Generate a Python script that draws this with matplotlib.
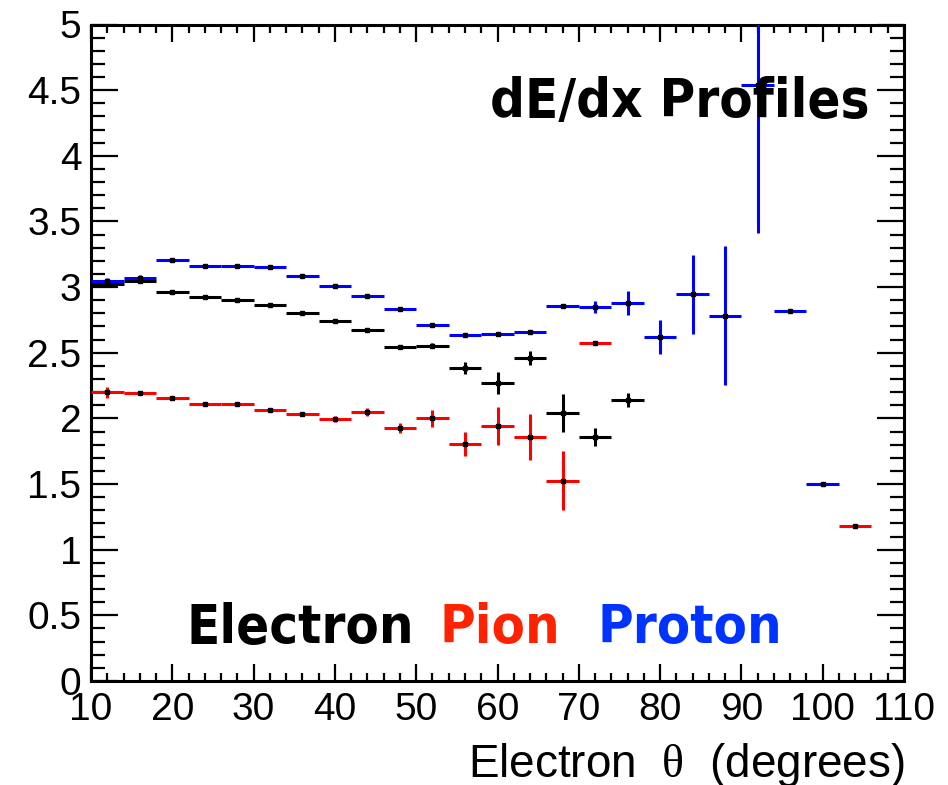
import matplotlib
matplotlib.use("Agg")
import matplotlib.pyplot as plt
from matplotlib.ticker import MultipleLocator, FormatStrFormatter

# bin centres (degrees) and profile values
electron_theta = [12, 16, 20, 24, 28, 32, 36, 40, 44, 48, 52, 56, 60, 64, 68, 72, 76]
electron_dedx = [3.02, 3.05, 2.965, 2.927, 2.899, 2.866, 2.805, 2.744, 2.671, 2.544,
                 2.554, 2.386, 2.267, 2.462, 2.041, 1.858, 2.137]
electron_err = [0.01, 0.02, 0.01, 0.01, 0.01, 0.01, 0.01, 0.01, 0.01, 0.015,
                0.02, 0.047, 0.084, 0.055, 0.146, 0.066, 0.053]

pion_theta = [12, 16, 20, 24, 28, 32, 36, 40, 44, 48, 52, 56, 60, 64, 68, 72, 104]
pion_dedx = [2.199, 2.193, 2.153, 2.112, 2.112, 2.067, 2.031, 1.995, 2.046, 1.926,
             2.0, 1.807, 1.94, 1.858, 1.526, 2.577, 1.18]
pion_err = [0.04, 0.01, 0.01, 0.01, 0.01, 0.01, 0.01, 0.02, 0.03, 0.038,
            0.062, 0.093, 0.146, 0.176, 0.227, 0.005, 0.003]

proton_theta = [12, 16, 20, 24, 28, 32, 36, 40, 44, 48, 52, 56, 60, 64, 68, 72,
                76, 80, 84, 88, 92, 96, 100]
proton_dedx = [3.049, 3.07, 3.204, 3.163, 3.158, 3.153, 3.085, 3.011, 2.93, 2.833,
               2.714, 2.638, 2.645, 2.658, 2.854, 2.848, 2.881, 2.618, 2.945, 2.782,
               4.539, 2.818, 1.498]
proton_err = [0.02, 0.02, 0.01, 0.01, 0.01, 0.01, 0.01, 0.01, 0.01, 0.01,
              0.01, 0.01, 0.01, 0.01, 0.01, 0.045, 0.09, 0.13, 0.30, 0.53,
              1.13, 0.005, 0.005]

bin_half = 2

plt.rcParams['font.family'] = ['Liberation Sans', 'DejaVu Sans']
plt.rcParams['mathtext.fontset'] = 'custom'
plt.rcParams['mathtext.rm'] = 'Liberation Serif'
plt.rcParams['mathtext.it'] = 'Liberation Serif:italic'

# bold condensed look for the in-plot labels
big = dict(fontsize=39, fontweight='bold', family='DejaVu Sans', fontstretch='condensed')

fig = plt.figure(figsize=(9.48, 7.85), dpi=100)
ax = fig.add_axes([91/948, 1-681/785, (904-91)/948, (681-24.5)/785])

def draw_profile(x, y, err, col):
    ax.errorbar(x, y, xerr=bin_half, yerr=err, fmt='s', color=col, ecolor=col,
                elinewidth=2.2, capsize=0, markersize=2.5, mfc='black', mec='black',
                zorder=3)

draw_profile(electron_theta, electron_dedx, electron_err, 'black')
draw_profile(pion_theta, pion_dedx, pion_err, '#ff0000')
draw_profile(proton_theta, proton_dedx, proton_err, '#0000ff')

ax.set_xlim(10, 110)
ax.set_ylim(0, 5)
ax.xaxis.set_major_locator(MultipleLocator(10))
ax.xaxis.set_minor_locator(MultipleLocator(2))
ax.yaxis.set_major_locator(MultipleLocator(0.5))
ax.yaxis.set_minor_locator(MultipleLocator(0.1))
ax.yaxis.set_major_formatter(FormatStrFormatter('%g'))

for s in ax.spines.values():
    s.set_linewidth(2.2)
ax.tick_params(axis='both', which='both', direction='in', top=True, right=True,
               width=1.6, labelsize=28)
ax.tick_params(axis='x', which='major', length=12.5, pad=8)
ax.tick_params(axis='x', which='minor', length=6)
ax.tick_params(axis='y', which='major', length=19.5, pad=7)
ax.tick_params(axis='y', which='minor', length=10)

ax.set_xlabel(r'Electron  $\mathrm{\theta}$  (degrees)', fontsize=33, ha='right', va='baseline')
ax.xaxis.set_label_coords(1.0012, (681-777)/656.5)

fig.text(870/948, 1-117/785, 'dE/dx Profiles', ha='right', va='baseline', zorder=5, **big)
fig.text(300/948, 1-643/785, 'Electron', color='black', ha='center', va='baseline', **big)
fig.text(500/948, 1-643/785, 'Pion', color='#ff2200', ha='center', va='baseline', **big)
fig.text(690/948, 1-643/785, 'Proton', color='#0033ff', ha='center', va='baseline', **big)

fig.savefig('out.png', dpi=100)
